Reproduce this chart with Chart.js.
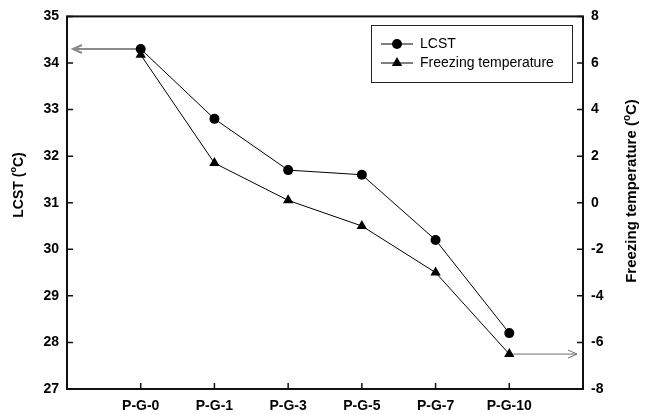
<!DOCTYPE html>
<html>
<head>
<meta charset="utf-8">
<script src="https://cdn.jsdelivr.net/npm/chart.js@4/dist/chart.umd.min.js"></script>
<style>
  body { margin: 0; background: #fff; }
  #wrap { width: 653px; height: 415px; }
</style>
</head>
<body>
<div id="wrap"><canvas id="chart" width="653" height="415"></canvas></div>
<script>
// samples on the x axis
const categories = ["P-G-0", "P-G-1", "P-G-3", "P-G-5", "P-G-7", "P-G-10"];
// LCST (left axis, °C)
const lcst = [34.3, 32.8, 31.7, 31.6, 30.2, 28.2];
// freezing temperature (right axis, °C)
const freezing = [6.35, 1.7, 0.1, -1.0, -3.0, -6.5];

const FONT = "'Liberation Sans', Arial, sans-serif";

// draws a rotated axis title with a superscript "o"
function drawTitle(ctx, cx, cy, size, before, after) {
    ctx.save();
    ctx.translate(cx, cy);
    ctx.rotate(-Math.PI / 2);
    ctx.fillStyle = "#000";
    ctx.textBaseline = "middle";
    ctx.textAlign = "left";
    const main = "bold " + size + "px " + FONT;
    const sup = "bold " + Math.round(size * 0.66) + "px " + FONT;
    ctx.font = main;
    const w1 = ctx.measureText(before).width;
    const w3 = ctx.measureText(after).width;
    ctx.font = sup;
    const w2 = ctx.measureText("o").width;
    let x = -(w1 + w2 + w3) / 2;
    ctx.font = main;
    ctx.fillText(before, x, 0);
    x += w1;
    ctx.font = sup;
    ctx.fillText("o", x, -5);
    x += w2;
    ctx.font = main;
    ctx.fillText(after, x, 0);
    ctx.restore();
}

function arrow(ctx, x1, y, tipX, color, width) {
    const dir = tipX < x1 ? 1 : -1;
    ctx.save();
    ctx.strokeStyle = color;
    ctx.lineWidth = width;
    ctx.beginPath();
    ctx.moveTo(x1, y);
    ctx.lineTo(tipX, y);
    ctx.moveTo(tipX + dir * 9, y - 4);
    ctx.lineTo(tipX, y);
    ctx.lineTo(tipX + dir * 9, y + 4);
    ctx.stroke();
    ctx.restore();
}

const decorations = {
    id: "decorations",
    beforeDatasetsDraw(chart) {
        const ctx = chart.ctx;
        const xs = chart.scales.x, y = chart.scales.y, y2 = chart.scales.y2;
        // arrows pointing at the axis each series belongs to
        arrow(ctx, xs.getPixelForValue(0), y.getPixelForValue(lcst[0]),
              chart.chartArea.left + 6, "#8a8a8a", 2);
        const last = freezing.length - 1;
        arrow(ctx, xs.getPixelForValue(last), y2.getPixelForValue(freezing[last]),
              chart.chartArea.right - 6, "#707070", 1);
    },
    afterDraw(chart) {
        const ctx = chart.ctx;
        const { left, right, top, bottom } = chart.chartArea;
        const xs = chart.scales.x, y = chart.scales.y, y2 = chart.scales.y2;
        ctx.save();
        ctx.strokeStyle = "#111";
        ctx.lineWidth = 2;
        ctx.strokeRect(left, top, right - left, bottom - top);
        // inward tick marks
        ctx.lineWidth = 1.5;
        ctx.beginPath();
        categories.forEach((c, i) => {
            const px = xs.getPixelForValue(i);
            ctx.moveTo(px, bottom);
            ctx.lineTo(px, bottom - 6);
        });
        y.ticks.forEach(t => {
            const py = y.getPixelForValue(t.value);
            ctx.moveTo(left, py);
            ctx.lineTo(left + 6, py);
        });
        y2.ticks.forEach(t => {
            const py = y2.getPixelForValue(t.value);
            ctx.moveTo(right, py);
            ctx.lineTo(right - 6, py);
        });
        ctx.stroke();

        // legend box
        ctx.lineWidth = 1;
        ctx.strokeStyle = "#222";
        ctx.strokeRect(371.5, 25.5, 201, 57);
        const rows = [
            { label: "LCST", style: "circle", r: 5, y: 44 },
            { label: "Freezing temperature", style: "triangle", r: 6, y: 63 }
        ];
        rows.forEach(row => {
            ctx.strokeStyle = "#000";
            ctx.lineWidth = 1;
            ctx.beginPath();
            ctx.moveTo(381, row.y);
            ctx.lineTo(413, row.y);
            ctx.stroke();
            ctx.fillStyle = "#000";
            Chart.helpers.drawPoint(ctx, { pointStyle: row.style, radius: row.r, borderWidth: 0 }, 397, row.y);
            ctx.fillStyle = "#000";
            ctx.font = "14px " + FONT;
            ctx.textBaseline = "middle";
            ctx.textAlign = "left";
            ctx.fillText(row.label, 420, row.y);
        });

        drawTitle(ctx, 19, 185, 14, "LCST (", "C)");
        drawTitle(ctx, 632, 191, 15, "Freezing temperature (", "C)");
        ctx.restore();
    }
};

const tickFont = { family: FONT, size: 14, weight: "bold" };

new Chart(document.getElementById("chart"), {
    type: "line",
    data: {
        datasets: [
            {
                label: "LCST",
                data: lcst.map((v, i) => ({ x: i, y: v })),
                yAxisID: "y",
                borderColor: "#000",
                backgroundColor: "#000",
                borderWidth: 1,
                pointStyle: "circle",
                pointRadius: 5,
                pointBorderWidth: 0,
                tension: 0
            },
            {
                label: "Freezing temperature",
                data: freezing.map((v, i) => ({ x: i, y: v })),
                yAxisID: "y2",
                borderColor: "#000",
                backgroundColor: "#000",
                borderWidth: 1,
                pointStyle: "triangle",
                pointRadius: 6,
                pointBorderWidth: 0,
                tension: 0
            }
        ]
    },
    options: {
        responsive: false,
        animation: false,
        layout: { padding: { top: 14, left: 0, right: 0, bottom: 0 } },
        plugins: { legend: { display: false }, tooltip: { enabled: false } },
        scales: {
            x: {
                type: "linear",
                min: -1,
                max: 6,
                afterBuildTicks: s => { s.ticks = categories.map((c, i) => ({ value: i })); },
                afterFit: s => { s.height = 26; },
                grid: { display: false, drawTicks: false },
                border: { display: false },
                ticks: {
                    padding: 9,
                    color: "#000",
                    font: tickFont,
                    maxRotation: 0,
                    callback: v => categories[v] ?? ""
                }
            },
            y: {
                position: "left",
                min: 27,
                max: 35,
                afterFit: s => { s.width = 67; },
                grid: { display: false, drawTicks: false },
                border: { display: false },
                ticks: { stepSize: 1, padding: 8, color: "#000", font: tickFont }
            },
            y2: {
                position: "right",
                min: -8,
                max: 8,
                afterFit: s => { s.width = 70; },
                grid: { display: false, drawTicks: false },
                border: { display: false },
                ticks: { stepSize: 2, padding: 8, color: "#000", font: tickFont }
            }
        }
    },
    plugins: [decorations]
});
</script>
</body>
</html>
